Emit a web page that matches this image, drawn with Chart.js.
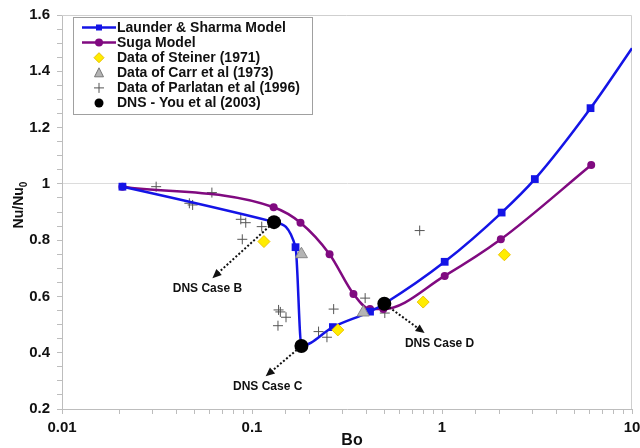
<!DOCTYPE html>
<html>
<head>
<meta charset="utf-8">
<script src="https://cdn.jsdelivr.net/npm/chart.js@4.4.0/dist/chart.umd.min.js"></script>
<style>
  html, body { margin: 0; padding: 0; background: #fff; }
</style>
</head>
<body>
<canvas id="myChart" width="640" height="448"></canvas>
<script>
// Launder & Sharma model
const lsBo = [0.0208, 0.13, 0.1695, 0.182, 0.2665, 0.418, 0.497, 1.033, 2.06, 3.08, 6.05, 10];
const lsNu = [0.990, 0.865, 0.775, 0.424, 0.491, 0.546, 0.574, 0.723, 0.898, 1.017, 1.269, 1.482];

// Suga model
const sugaBo = [0.0208, 0.130, 0.180, 0.256, 0.342, 0.418, 0.491, 1.033, 2.04, 6.10];
const sugaNu = [0.990, 0.917, 0.862, 0.750, 0.609, 0.555, 0.555, 0.673, 0.803, 1.067];

// Steiner (1971)
const steinerBo = [0.1156, 0.283, 0.796, 2.13];
const steinerNu = [0.795, 0.481, 0.580, 0.748];

// Carr et al (1973)
const carrBo = [0.182, 0.385];
const carrNu = [0.750, 0.543];

// Parlatan et al (1996)
const parlatanBo = [0.0313, 0.0615, 0.0468, 0.0487, 0.0873, 0.0927, 0.1125, 0.0889,
                    0.138, 0.141, 0.151, 0.137, 0.269, 0.224, 0.248, 0.394, 0.763, 0.50];
const parlatanNu = [0.990, 0.969, 0.931, 0.925, 0.874, 0.862, 0.848, 0.803,
                    0.552, 0.545, 0.526, 0.496, 0.555, 0.475, 0.455, 0.594, 0.834, 0.541];

// DNS - You et al (2003): cases B, C, D
const dnsCases = ['DNS Case B', 'DNS Case C', 'DNS Case D'];
const dnsBo = [0.1306, 0.182, 0.497];
const dnsNu = [0.864, 0.424, 0.574];

// where each case arrow points to
const arrowBo = [0.0619, 0.118, 0.810];
const arrowNu = [0.665, 0.316, 0.470];

const xTickLabels = ['0.01', '0.1', '1', '10'];

const toPoints = (xs, ys) => xs.map((x, i) => ({ x: x, y: ys[i] }));

const FONT = '"Liberation Sans", Arial, sans-serif';
const BLUE = '#1414e6';
const PURPLE = '#800a80';

const legendItems = [
    { label: 'Launder & Sharma Model', kind: 'line', color: BLUE, marker: 'rect' },
    { label: 'Suga Model', kind: 'line', color: PURPLE, marker: 'circle' },
    { label: 'Data of Steiner (1971)', kind: 'diamond' },
    { label: 'Data of Carr et al (1973)', kind: 'triangle' },
    { label: 'Data of Parlatan et al (1996)', kind: 'cross' },
    { label: 'DNS - You et al (2003)', kind: 'dot' },
];

function drawMarker(ctx, kind, x, y) {
    ctx.save();
    ctx.setLineDash([]);
    if (kind === 'diamond') {
        ctx.fillStyle = '#ffec00';
        ctx.strokeStyle = '#e8c000';
        ctx.lineWidth = 1;
        ctx.beginPath();
        ctx.moveTo(x, y - 5); ctx.lineTo(x + 5, y); ctx.lineTo(x, y + 5); ctx.lineTo(x - 5, y);
        ctx.closePath(); ctx.fill(); ctx.stroke();
    } else if (kind === 'triangle') {
        ctx.fillStyle = '#b4b4b4';
        ctx.strokeStyle = '#777';
        ctx.lineWidth = 1;
        ctx.beginPath();
        ctx.moveTo(x, y - 5); ctx.lineTo(x + 4.5, y + 4); ctx.lineTo(x - 4.5, y + 4);
        ctx.closePath(); ctx.fill(); ctx.stroke();
    } else if (kind === 'cross') {
        ctx.strokeStyle = '#555';
        ctx.lineWidth = 1;
        ctx.beginPath();
        ctx.moveTo(x - 5, y); ctx.lineTo(x + 5, y);
        ctx.moveTo(x, y - 5); ctx.lineTo(x, y + 5);
        ctx.stroke();
    } else if (kind === 'dot') {
        ctx.fillStyle = '#000';
        ctx.beginPath(); ctx.arc(x, y, 4.5, 0, Math.PI * 2); ctx.fill();
    }
    ctx.restore();
}

const extras = {
    id: 'extras',
    beforeDatasetsDraw(chart) {
        const { ctx, chartArea: a } = chart;
        ctx.save();
        ctx.strokeStyle = '#cfcfcf';
        ctx.lineWidth = 1;
        ctx.beginPath();
        ctx.moveTo(a.left, a.top + 0.5);
        ctx.lineTo(a.right - 0.5, a.top + 0.5);
        ctx.lineTo(a.right - 0.5, a.bottom);
        ctx.stroke();
        ctx.restore();
    },
    afterDraw(chart) {
        const { ctx } = chart;
        const xs = chart.scales.x, ys = chart.scales.y;
        ctx.save();

        // dotted arrows + case labels
        dnsCases.forEach((name, i) => {
            const x0 = xs.getPixelForValue(dnsBo[i]), y0 = ys.getPixelForValue(dnsNu[i]);
            const x1 = xs.getPixelForValue(arrowBo[i]), y1 = ys.getPixelForValue(arrowNu[i]);
            const ang = Math.atan2(y1 - y0, x1 - x0);
            const sx = x0 + Math.cos(ang) * 6, sy = y0 + Math.sin(ang) * 6;
            const hx = x1 - Math.cos(ang) * 7, hy = y1 - Math.sin(ang) * 7;
            ctx.strokeStyle = '#111';
            ctx.lineWidth = 2;
            ctx.setLineDash([2, 2]);
            ctx.beginPath(); ctx.moveTo(sx, sy); ctx.lineTo(hx, hy); ctx.stroke();
            ctx.setLineDash([]);
            ctx.fillStyle = '#111';
            ctx.beginPath();
            ctx.moveTo(x1, y1);
            ctx.lineTo(x1 - Math.cos(ang) * 9 + Math.sin(ang) * 4, y1 - Math.sin(ang) * 9 - Math.cos(ang) * 4);
            ctx.lineTo(x1 - Math.cos(ang) * 9 - Math.sin(ang) * 4, y1 - Math.sin(ang) * 9 + Math.cos(ang) * 4);
            ctx.closePath(); ctx.fill();

            const dx = [-5, 2, 15][i];
            ctx.font = 'bold 12px ' + FONT;
            ctx.textAlign = 'center';
            ctx.textBaseline = 'middle';
            ctx.fillText(name, x1 + dx, y1 + 10.5);
        });

        // legend box
        const lx = 73.5, ly = 17.5, lw = 239, lh = 97;
        ctx.fillStyle = '#fff';
        ctx.fillRect(lx, ly, lw, lh);
        ctx.strokeStyle = '#a0a0a0';
        ctx.lineWidth = 1;
        ctx.strokeRect(lx, ly, lw, lh);
        legendItems.forEach((it, i) => {
            const ry = 27.5 + i * 15.1;
            const mx = 99;
            if (it.kind === 'line') {
                ctx.strokeStyle = it.color;
                ctx.lineWidth = 2.5;
                ctx.beginPath(); ctx.moveTo(82, ry); ctx.lineTo(116, ry); ctx.stroke();
                ctx.fillStyle = it.color;
                if (it.marker === 'rect') {
                    ctx.fillRect(mx - 3, ry - 3, 6, 6);
                } else {
                    ctx.beginPath(); ctx.arc(mx, ry, 4, 0, Math.PI * 2); ctx.fill();
                }
            } else {
                drawMarker(ctx, it.kind, mx, ry);
            }
            ctx.fillStyle = '#111';
            ctx.font = 'bold 14px ' + FONT;
            ctx.textAlign = 'left';
            ctx.textBaseline = 'middle';
            ctx.fillText(it.label, 117, ry + 0.5);
        });

        // axis titles
        ctx.fillStyle = '#111';
        ctx.font = 'bold 16px ' + FONT;
        ctx.textAlign = 'center';
        ctx.textBaseline = 'middle';
        ctx.fillText('Bo', 352, 441);

        ctx.translate(19, 205);
        ctx.rotate(-Math.PI / 2);
        ctx.font = 'bold 14px ' + FONT;
        const main = 'Nu/Nu';
        const wMain = ctx.measureText(main).width;
        ctx.font = 'bold 10px ' + FONT;
        const wSub = ctx.measureText('0').width;
        const start = -(wMain + wSub) / 2;
        ctx.font = 'bold 14px ' + FONT;
        ctx.textAlign = 'left';
        ctx.fillText(main, start, 0);
        ctx.font = 'bold 10px ' + FONT;
        ctx.fillText('0', start + wMain, 5);
        ctx.restore();
    }
};

const isDecade = v => {
    const l = Math.log10(v);
    return Math.abs(l - Math.round(l)) < 1e-6;
};

new Chart(document.getElementById('myChart'), {
    type: 'scatter',
    data: {
        datasets: [
            {
                label: 'DNS - You et al (2003)',
                data: toPoints(dnsBo, dnsNu),
                pointStyle: 'circle', pointRadius: 7,
                backgroundColor: '#000', borderColor: '#000', borderWidth: 0,
                order: 0,
            },
            {
                label: 'Data of Carr et al (1973)',
                data: toPoints(carrBo, carrNu),
                pointStyle: 'triangle', pointRadius: 7,
                backgroundColor: '#b4b4b4', borderColor: '#888', borderWidth: 1,
                order: 1,
            },
            {
                label: 'Data of Steiner (1971)',
                data: toPoints(steinerBo, steinerNu),
                pointStyle: 'rectRot', pointRadius: 6,
                backgroundColor: '#ffec00', borderColor: '#ecc400', borderWidth: 1,
                order: 2,
            },
            {
                label: 'Launder & Sharma Model',
                data: toPoints(lsBo, lsNu),
                showLine: true, cubicInterpolationMode: 'monotone',
                borderColor: BLUE, backgroundColor: BLUE, borderWidth: 2.5,
                pointStyle: 'rect', pointRadius: lsBo.map(b => b >= 10 ? 0 : 5.5),
                pointBorderWidth: 0,
                order: 3,
            },
            {
                label: 'Suga Model',
                data: toPoints(sugaBo, sugaNu),
                showLine: true, cubicInterpolationMode: 'monotone',
                borderColor: PURPLE, backgroundColor: PURPLE, borderWidth: 2.5,
                pointStyle: 'circle', pointRadius: 4, pointBorderWidth: 0,
                order: 4,
            },
            {
                label: 'Data of Parlatan et al (1996)',
                data: toPoints(parlatanBo, parlatanNu),
                pointStyle: 'cross', pointRadius: 5,
                borderColor: '#555', backgroundColor: '#555', borderWidth: 1,
                order: 5,
            },
        ],
    },
    options: {
        responsive: false,
        animation: false,
        devicePixelRatio: 1,
        layout: { padding: { top: 15, right: 7, left: 0, bottom: 0 } },
        plugins: { legend: { display: false }, tooltip: { enabled: false } },
        scales: {
            x: {
                type: 'logarithmic',
                min: 0.01,
                max: 10,
                afterFit: s => { s.height = 39; s.paddingRight = 7; s.paddingLeft = 0; },
                border: { color: '#bdbdbd' },
                grid: { drawOnChartArea: false, tickColor: '#bdbdbd', tickLength: 5 },
                ticks: {
                    autoSkip: false, maxRotation: 0, padding: 5,
                    color: '#111', font: { family: FONT, size: 15, weight: 'bold' },
                    callback: v => {
                        if (!isDecade(v)) return '';
                        const idx = Math.round(Math.log10(v)) + 2;
                        return xTickLabels[idx] || '';
                    },
                },
            },
            y: {
                min: 0.2,
                max: 1.6,
                afterFit: s => { s.width = 62; s.paddingTop = 15; s.paddingBottom = 0; },
                border: { color: '#bdbdbd' },
                grid: {
                    color: c => (c.tick && Math.abs(c.tick.value - 1) < 1e-6) ? '#dcdcdc' : 'rgba(0,0,0,0)',
                    tickColor: '#bdbdbd', tickLength: 5,
                },
                ticks: {
                    stepSize: 0.05, autoSkip: false, padding: 7,
                    color: '#111', font: { family: FONT, size: 15, weight: 'bold' },
                    callback: v => {
                        const k = v * 5;
                        return Math.abs(k - Math.round(k)) < 1e-6 ? String(Number(v.toFixed(1))) : '';
                    },
                },
            },
        },
    },
    plugins: [extras],
});
</script>
</body>
</html>
